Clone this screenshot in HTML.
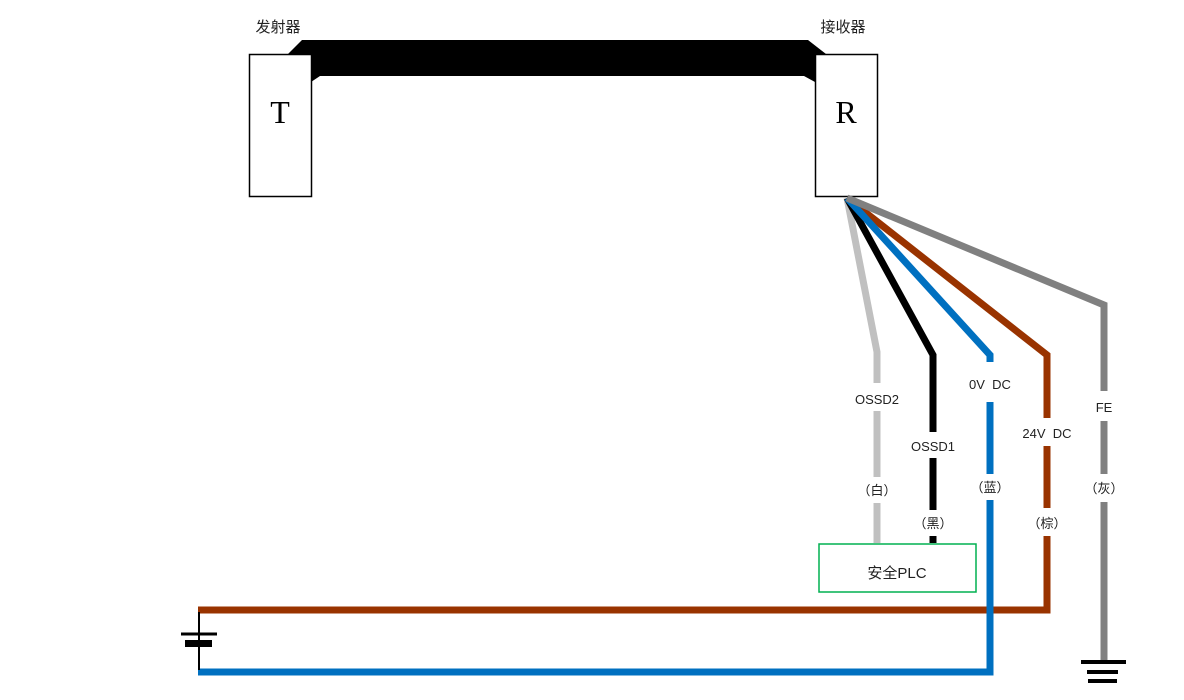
<!DOCTYPE html>
<html><head><meta charset="utf-8"><style>
html,body{margin:0;padding:0;background:#fff;}
svg{display:block;}
</style></head><body>
<svg width="1184" height="700" viewBox="0 0 1184 700" xmlns="http://www.w3.org/2000/svg">
<rect width="1184" height="700" fill="#fff"/>
<g style='font-family:"Liberation Sans","Noto Sans CJK SC",sans-serif'>
<text x="278" y="32" font-size="15" fill="#222" text-anchor="middle">发射器</text>
<text x="843" y="32" font-size="15" fill="#222" text-anchor="middle">接收器</text>
</g>
<polygon points="288,54 302,40 808,40 826,54 826,82 815,82 804,76 320,76 311,82 300,82 300,54" fill="#000"/>
<rect x="249.5" y="54.5" width="62" height="142" fill="#fff" stroke="#000" stroke-width="1.5"/>
<rect x="815.5" y="54.5" width="62" height="142" fill="#fff" stroke="#000" stroke-width="1.5"/>
<text x="280" y="123" font-size="32" style='font-family:"Liberation Serif",serif' text-anchor="middle" fill="#000">T</text>
<text x="846" y="123" font-size="32" style='font-family:"Liberation Serif",serif' text-anchor="middle" fill="#000">R</text>
<g fill="none" stroke-width="7" stroke-linejoin="miter">
<polyline points="847,198 877,352 877,543" stroke="#c0c0c0"/>
<polyline points="847,198 933,355 933,543" stroke="#000"/>
<polyline points="847,198 1047,355 1047,610 198,610" stroke="#993300"/>
<polyline points="847,198 990,355 990,672 198,672" stroke="#0070c0"/>
<polyline points="847,198 1104,305 1104,660" stroke="#808080"/>
</g>
<line x1="199" y1="612" x2="199" y2="670" stroke="#000" stroke-width="2"/>
<line x1="181" y1="634" x2="217" y2="634" stroke="#000" stroke-width="3"/>
<rect x="185" y="640" width="27" height="7" fill="#000"/>
<rect x="1081" y="660" width="45" height="4" fill="#000"/>
<rect x="1087" y="670" width="31" height="4" fill="#000"/>
<rect x="1088" y="679" width="29" height="4" fill="#000"/>
<g fill="#fff">
<rect x="850" y="383" width="54" height="28"/>
<rect x="850" y="477" width="54" height="26"/>
<rect x="905" y="432" width="56" height="26"/>
<rect x="905" y="510" width="56" height="26"/>
<rect x="962" y="362" width="56" height="40"/>
<rect x="962" y="474" width="56" height="26"/>
<rect x="1018" y="418" width="58" height="28"/>
<rect x="1018" y="508" width="58" height="28"/>
<rect x="1080" y="391" width="48" height="30"/>
<rect x="1080" y="474" width="48" height="28"/>
</g>
<g font-size="13" fill="#222" text-anchor="middle" style='font-family:"Liberation Sans Narrow","Liberation Sans","Noto Sans CJK SC",sans-serif'>
<text x="877" y="404">OSSD2</text>
<text x="877" y="495">（白）</text>
<text x="933" y="451">OSSD1</text>
<text x="933" y="528">（黑）</text>
<text x="990" y="389" xml:space="preserve">0V  DC</text>
<text x="990" y="492">（蓝）</text>
<text x="1047" y="438" xml:space="preserve">24V  DC</text>
<text x="1047" y="528">（棕）</text>
<text x="1104" y="412">FE</text>
<text x="1104" y="493">（灰）</text>
</g>
<rect x="819" y="544" width="157" height="48" fill="#fff" stroke="#00b050" stroke-width="1.5"/>
<text x="897" y="578" font-size="15" fill="#222" text-anchor="middle" style='font-family:"Liberation Sans","Noto Sans CJK SC",sans-serif'>安全PLC</text>
</svg>
</body></html>
